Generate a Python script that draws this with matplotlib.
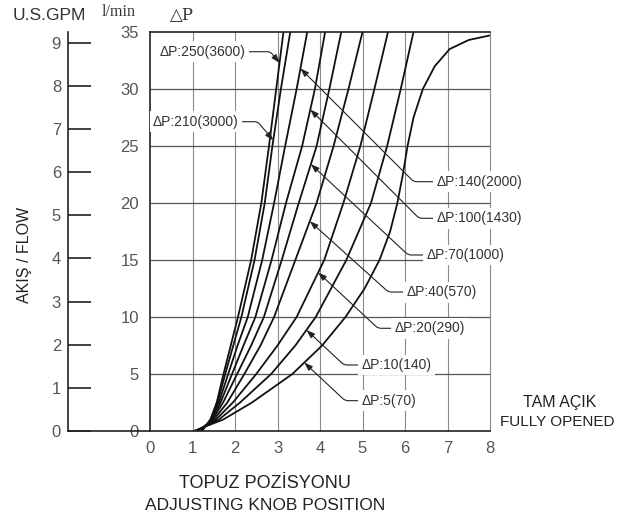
import numpy as np
import matplotlib.pyplot as plt

plt.rcParams['font.family'] = ['Liberation Sans', 'DejaVu Sans']

# flow levels (l/min) at which the knob position of each curve was read
flow_lv = [0, 1, 2.5, 5, 7.5, 10, 15, 20, 25, 30, 35]

# knob position for each pressure drop, at the flow levels above
knob_250 = [1.22, 1.42, 1.57, 1.73, 1.90, 2.07, 2.38, 2.62, 2.80, 2.97, 3.14]
knob_210 = [1.22, 1.43, 1.59, 1.77, 1.96, 2.15, 2.46, 2.70, 2.88, 3.08, 3.30]
knob_140 = [1.20, 1.44, 1.62, 1.84, 2.06, 2.30, 2.64, 2.92, 3.18, 3.45, 3.70]
knob_100 = [1.18, 1.45, 1.66, 1.93, 2.20, 2.48, 2.86, 3.20, 3.58, 3.88, 4.12]
knob_70 = [1.15, 1.47, 1.72, 2.05, 2.38, 2.68, 3.10, 3.50, 3.92, 4.22, 4.50]
knob_40 = [1.12, 1.50, 1.82, 2.22, 2.60, 2.92, 3.42, 3.92, 4.32, 4.67, 5.00]
knob_20 = [1.10, 1.55, 1.95, 2.50, 3.00, 3.45, 4.10, 4.55, 4.95, 5.28, 5.60]
knob_10 = [1.07, 1.62, 2.12, 2.85, 3.42, 3.90, 4.62, 5.20, 5.58, 5.90, 6.20]

# dP 5 curve flattens out near full opening
knob_5 = [1.03, 1.72, 2.40, 3.35, 4.05, 4.60, 5.05, 5.40, 5.65, 5.82, 5.95, 6.06,
          6.20, 6.42, 6.70, 7.05, 7.50, 8.00]
flow_5 = [0, 1, 2.5, 5, 7.5, 10, 12.5, 15, 17.5, 20, 22.5, 25,
          27.5, 30, 32, 33.5, 34.3, 34.7]

dp_labels = ['ΔP:250(3600)', 'ΔP:210(3000)', 'ΔP:140(2000)', 'ΔP:100(1430)',
             'ΔP:70(1000)', 'ΔP:40(570)', 'ΔP:20(290)', 'ΔP:10(140)', 'ΔP:5(70)']
# flow where each label arrow touches its curve
arrow_flow = [32.3, 25.5, 31.8, 28.2, 23.4, 18.4, 13.9, 8.86, 6.0]

gpm_ticks = list(range(0, 10))
lpm_ticks = list(range(0, 36, 5))
knob_ticks = list(range(0, 9))

W, H = 625, 521
fig = plt.figure(figsize=(W / 100, H / 100), dpi=100)
ax = fig.add_axes([150 / W, 90 / H, 340 / W, 399 / H])

curves = [knob_250, knob_210, knob_140, knob_100, knob_70, knob_40, knob_20, knob_10]
for xs in curves:
    ax.plot(xs, flow_lv, color='#111111', lw=1.3, solid_capstyle='round', zorder=2)
ax.plot(knob_5, flow_5, color='#111111', lw=1.3, zorder=2)

# grid
for v in knob_ticks[1:]:
    ax.axvline(v, color='#8a8a8a', lw=0.8, zorder=0.5, clip_on=False)
for h in lpm_ticks[1:-1]:
    ax.axhline(h, color='#555555', lw=0.9, zorder=0.5)

ax.set_xlim(0, 8)
ax.set_ylim(0, 35)
ax.set_xticks(knob_ticks)
ax.set_yticks(lpm_ticks)
ax.tick_params(axis='both', length=0, labelsize=12, labelcolor='#555555')
ax.tick_params(axis='y', pad=8)
ax.tick_params(axis='x', pad=7)
for s in ['left', 'bottom', 'top']:
    ax.spines[s].set_color('#222222')
    ax.spines[s].set_linewidth(1.2)
ax.spines['right'].set_visible(False)

# labels with leaders
text_pos = [(0.235, 33.27), (0.07, 27.13), (6.75, 21.87), (6.75, 18.66),
            (6.51, 15.44), (6.04, 12.19), (5.76, 9.01), (4.98, 5.79), (4.98, 2.66)]
angles = [-50, -50, -45, -45, -43, -42, -43, -43, -43]
all_knobs = curves + [None]
for lab, xs, fy, tp, ang in zip(dp_labels, all_knobs, arrow_flow, text_pos, angles):
    if xs is None:
        tip_x = np.interp(fy, flow_5, knob_5)
    else:
        tip_x = np.interp(fy, flow_lv, xs)
    ax.annotate(lab, xy=(tip_x, fy), xytext=tp, textcoords='data',
                ha='left', va='center', fontsize=10, color='#333333',
                bbox=dict(boxstyle='square,pad=0.25', fc='white', ec='none'),
                arrowprops=dict(arrowstyle='-|>,head_length=0.5,head_width=0.18',
                                connectionstyle='angle,angleA=0,angleB=%d,rad=3' % ang,
                                color='#222222', lw=0.8, shrinkA=0, shrinkB=0),
                annotation_clip=False, zorder=4)

# US GPM scale on the far left
gax = fig.add_axes([68 / W, 90 / H, 82 / W, 399 / H])
gax.set_xlim(0, 1)
gax.set_ylim(0, 35 / 3.785)
gax.patch.set_alpha(0)
gax.set_xticks([])
gax.set_yticks(gpm_ticks)
gax.tick_params(axis='y', direction='in', length=16.5, width=1.2, color='#222222',
                pad=5, labelsize=12, labelcolor='#555555')
for s in ['top', 'right']:
    gax.spines[s].set_visible(False)
for s in ['left', 'bottom']:
    gax.spines[s].set_color('#222222')
    gax.spines[s].set_linewidth(1.2)

# header and axis texts
fig.text(13 / W, 1 - 16 / H, 'U.S.GPM', ha='left', va='center', fontsize=12.5, color='#333333')
fig.text(119 / W, 1 - 12 / H, 'l/min', ha='center', va='center', fontsize=11.5,
         color='#333333', family=['Liberation Serif', 'DejaVu Serif'])
fig.text(182 / W, 1 - 15 / H, '△P', ha='center', va='center', fontsize=12,
         color='#333333', family=['DejaVu Serif'])
fig.text(25 / W, 1 - 255 / H, 'AKIŞ / FLOW', rotation=90, ha='center', va='center',
         fontsize=11.5, color='#222222')
fig.text(265 / W, 1 - 483 / H, 'TOPUZ POZİSYONU', ha='center', va='center',
         fontsize=13, color='#222222')
fig.text(265 / W, 1 - 506 / H, 'ADJUSTING KNOB POSITION', ha='center', va='center',
         fontsize=12.5, color='#222222')
fig.text(560 / W, 1 - 402 / H, 'TAM AÇIK', ha='center', va='center',
         fontsize=11.5, color='#222222')
fig.text(557 / W, 1 - 422 / H, 'FULLY OPENED', ha='center', va='center',
         fontsize=11, color='#222222')

fig.savefig('out.png', dpi=100)
